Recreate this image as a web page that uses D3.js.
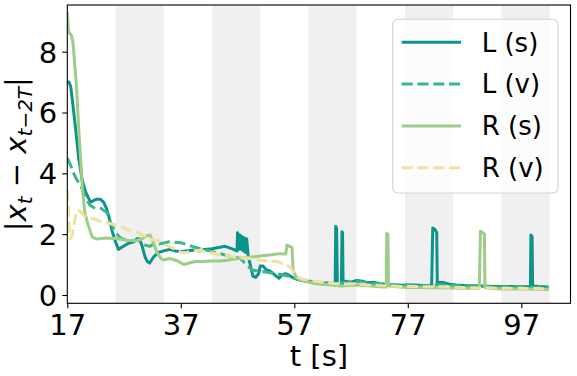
<!DOCTYPE html>
<html>
<head>
<meta charset="utf-8">
<script src="https://cdn.jsdelivr.net/npm/d3@7"></script>
<style>
  body { margin: 0; background: #fff; }
  svg { display: block; font-family: "DejaVu Sans", sans-serif; }
</style>
</head>
<body>
<div id="canvas"></div>
<script>
// [t, value] samples
var L_s = [[17.0,7.0],[17.3,7.0],[17.6,6.85],[17.9,6.4],[18.2,5.9],[18.5,5.4],[19.0,4.5],[19.6,3.8],[20.2,3.4],[20.7,3.2],[21.1,3.05],[21.6,3.1],[22.2,3.15],[22.8,3.15],[23.4,3.05],[23.9,2.85],[24.3,2.6],[24.9,2.1],[25.5,1.75],[26.0,1.5],[26.9,1.6],[27.8,1.7],[28.7,1.75],[29.3,1.85],[29.7,1.85],[30.2,1.6],[30.7,1.25],[31.1,1.1],[31.5,1.05],[32.2,1.25],[33.1,1.4],[34.0,1.45],[35.0,1.5],[36.0,1.45],[37.0,1.42],[38.0,1.45],[39.2,1.48],[40.4,1.45],[41.2,1.5],[42.5,1.52],[43.9,1.57],[44.8,1.6],[45.6,1.55],[46.3,1.5],[46.9,1.45],[47.0,2.05],[47.2,1.5],[47.4,1.98],[47.6,1.5],[47.8,1.92],[48.0,1.45],[48.2,1.88],[48.4,1.4],[48.6,1.85],[48.9,1.25],[49.3,0.95],[49.7,0.62],[50.2,0.58],[50.7,0.7],[51.0,0.95],[51.5,0.95],[52.1,0.82],[52.8,0.78],[53.3,0.7],[53.8,0.62],[54.3,0.55],[54.8,0.65],[55.3,0.7],[55.8,0.68],[56.3,0.62],[57.0,0.55],[58.0,0.49],[59.0,0.45],[60.3,0.43],[61.5,0.38],[62.5,0.36],[63.5,0.35],[64.2,0.33],[64.3,2.26],[64.45,2.2],[64.6,0.33],[65.0,0.3],[65.3,0.3],[65.4,2.08],[65.5,2.05],[65.6,0.3],[66.0,0.45],[67.0,0.42],[68.0,0.48],[69.0,0.45],[70.0,0.4],[71.0,0.42],[72.0,0.37],[73.0,0.35],[74.0,0.34],[75.0,0.33],[76.0,0.32],[77.0,0.33],[78.0,0.33],[79.0,0.32],[80.0,0.31],[81.2,0.3],[81.4,2.2],[81.8,2.15],[82.1,2.05],[82.2,0.35],[82.6,0.42],[83.5,0.4],[84.5,0.35],[85.5,0.33],[87.0,0.31],[89.0,0.3],[91.0,0.29],[93.0,0.28],[95.0,0.28],[97.0,0.27],[98.6,0.27],[98.7,1.97],[98.9,1.93],[99.0,0.3],[100.0,0.28],[101.0,0.27],[101.8,0.26]];
var L_v = [[17.0,4.5],[17.5,4.3],[18.0,4.05],[18.5,3.85],[19.0,3.7],[19.6,3.5],[20.2,3.2],[21.0,2.95],[21.9,2.85],[23.0,2.84],[24.0,2.7],[24.6,2.4],[25.5,2.05],[26.5,1.86],[27.5,1.8],[28.5,1.78],[29.5,1.8],[30.5,1.65],[31.5,1.6],[32.5,1.7],[33.3,1.68],[35.0,1.75],[37.0,1.72],[39.0,1.6],[40.5,1.52],[41.6,1.47],[43.0,1.4],[44.0,1.36],[45.0,1.3],[46.3,1.25],[47.5,1.2],[48.3,1.05],[49.0,0.92],[49.6,0.82],[51.0,0.78],[52.5,0.74],[54.0,0.7],[55.5,0.64],[56.3,0.6],[57.0,0.55],[58.0,0.5],[60.0,0.45],[62.0,0.42],[64.0,0.38],[66.0,0.4],[68.0,0.44],[70.0,0.4],[72.0,0.36],[74.0,0.33],[76.0,0.32],[78.0,0.32],[80.0,0.3],[82.0,0.34],[84.0,0.33],[86.0,0.3],[88.0,0.29],[90.0,0.28],[92.0,0.27],[94.0,0.26],[96.0,0.26],[98.0,0.25],[100.0,0.25],[101.8,0.24]];
var R_s = [[17.0,9.3],[17.2,8.7],[17.4,8.6],[17.7,8.55],[18.0,8.3],[18.3,7.6],[18.6,6.9],[19.0,5.5],[19.4,4.3],[19.7,3.4],[20.1,2.7],[20.6,2.35],[21.4,1.9],[22.2,1.84],[23.5,1.87],[25.5,1.86],[27.5,1.8],[29.0,1.78],[30.2,1.85],[31.0,1.95],[31.6,1.97],[32.2,1.7],[32.8,1.4],[33.5,1.2],[34.0,1.15],[35.0,1.2],[36.5,1.12],[37.5,1.0],[38.5,1.05],[39.5,1.1],[41.0,1.1],[42.5,1.12],[44.0,1.12],[45.5,1.15],[47.0,1.2],[49.0,1.24],[51.0,1.28],[53.0,1.32],[54.5,1.36],[55.5,1.35],[55.7,1.64],[56.2,1.6],[56.6,1.55],[56.8,0.8],[57.3,0.6],[57.8,0.52],[59.0,0.45],[60.5,0.38],[62.0,0.35],[64.0,0.32],[66.0,0.3],[68.0,0.33],[70.0,0.3],[72.0,0.27],[73.2,0.26],[73.3,2.02],[73.5,2.0],[73.6,0.3],[75.0,0.27],[77.0,0.25],[79.0,0.25],[81.0,0.24],[83.0,0.24],[85.0,0.23],[87.0,0.22],[89.6,0.22],[89.8,2.1],[90.2,2.05],[90.5,2.0],[90.6,0.25],[92.0,0.21],[94.0,0.2],[96.0,0.2],[98.0,0.2],[100.0,0.19],[101.8,0.18]];
var R_v = [[17.0,3.45],[17.2,2.8],[17.4,2.0],[17.6,1.85],[17.9,2.0],[18.3,2.45],[18.8,2.8],[19.3,2.75],[20.0,2.6],[21.0,2.55],[22.0,2.48],[23.0,2.4],[24.3,2.36],[25.5,2.3],[26.5,2.25],[27.5,2.15],[28.5,2.1],[29.5,2.05],[30.5,1.95],[31.5,1.85],[32.5,1.8],[33.3,1.78],[34.2,1.65],[35.1,1.58],[36.0,1.5],[37.0,1.4],[38.0,1.4],[39.0,1.45],[40.4,1.47],[41.5,1.42],[42.5,1.38],[43.5,1.34],[45.0,1.3],[46.5,1.25],[48.0,1.22],[50.0,1.18],[52.0,1.12],[54.0,1.1],[55.5,1.0],[56.3,0.92],[57.0,0.7],[57.5,0.6],[58.5,0.52],[60.0,0.47],[62.0,0.42],[64.0,0.38],[66.0,0.36],[68.0,0.37],[70.0,0.33],[72.0,0.31],[74.0,0.3],[76.0,0.28],[78.0,0.28],[80.0,0.27],[82.0,0.27],[84.0,0.26],[86.0,0.25],[88.0,0.24],[90.0,0.23],[92.0,0.23],[94.0,0.22],[96.0,0.22],[98.0,0.21],[100.0,0.21],[101.8,0.2]];

var seriesNames = ["L (s)", "L (v)", "R (s)", "R (v)"];
var bandStarts = [25.5, 42.5, 59.5, 76.5, 93.5];
var bandWidth = 8.5;
var xTicks = [17, 37, 57, 77, 97];
var yTicks = [0, 2, 4, 6, 8];

(function() {
  var width = 577, height = 376;
  var pLeft = 67.3, pRight = 570.5, pTop = 5, pBottom = 303.3;

  var x = d3.scaleLinear().domain([17, 105.67]).range([pLeft, pRight]);
  var y = d3.scaleLinear().domain([-0.273, 9.535]).range([pBottom, pTop]);

  var styles = [
    { color: "#0c948c", dash: null },
    { color: "#3bb58b", dash: "11,4.8" },
    { color: "#9dcd88", dash: null },
    { color: "#ece3a0", dash: "11,4.8" }
  ];
  var data = [L_s, L_v, R_s, R_v];

  var svg = d3.select("div#canvas").append("svg")
    .attr("width", width)
    .attr("height", height);

  svg.append("defs").append("clipPath").attr("id", "plot-clip")
    .append("rect")
    .attr("x", pLeft).attr("y", pTop)
    .attr("width", pRight - pLeft).attr("height", pBottom - pTop);

  // shaded intervals
  svg.append("g").selectAll("rect")
    .data(bandStarts)
    .enter().append("rect")
    .attr("x", function(d) { return x(d); })
    .attr("y", pTop)
    .attr("width", function(d) { return x(d + bandWidth) - x(d); })
    .attr("height", pBottom - pTop)
    .attr("fill", "#f0f0f0");

  var line = d3.line()
    .x(function(d) { return x(d[0]); })
    .y(function(d) { return y(d[1]); });

  svg.append("g").attr("clip-path", "url(#plot-clip)")
    .selectAll("path")
    .data(data)
    .enter().append("path")
    .attr("d", line)
    .attr("fill", "none")
    .attr("stroke", function(d, i) { return styles[i].color; })
    .attr("stroke-width", 3)
    .attr("stroke-linejoin", "round")
    .attr("stroke-dasharray", function(d, i) { return styles[i].dash; });

  // axes
  var xAxis = svg.append("g")
    .attr("transform", "translate(0," + pBottom + ")")
    .call(d3.axisBottom(x).tickValues(xTicks).tickSize(5).tickPadding(6));
  var yAxis = svg.append("g")
    .attr("transform", "translate(" + pLeft + ",0)")
    .call(d3.axisLeft(y).tickValues(yTicks).tickSize(5).tickPadding(5));

  [xAxis, yAxis].forEach(function(a) {
    a.select(".domain").remove();
    a.selectAll("line").attr("stroke", "#000").attr("stroke-width", 1.1);
    a.selectAll("text")
      .attr("fill", "#000")
      .style("font-family", "DejaVu Sans")
      .style("font-size", "29px");
  });
  yAxis.selectAll("text").attr("dy", "0.36em");

  svg.append("rect")
    .attr("x", pLeft).attr("y", pTop)
    .attr("width", pRight - pLeft).attr("height", pBottom - pTop)
    .attr("fill", "none")
    .attr("stroke", "#000")
    .attr("stroke-width", 1.1);

  svg.append("text")
    .attr("x", (pLeft + pRight) / 2)
    .attr("y", 366)
    .attr("text-anchor", "middle")
    .style("font-size", "29px")
    .text("t [s]");

  var ylab = svg.append("text")
    .attr("transform", "translate(26," + ((pTop + pBottom) / 2) + ") rotate(-90)")
    .attr("text-anchor", "middle")
    .style("font-size", "29px");
  ylab.append("tspan").text("|");
  ylab.append("tspan").style("font-style", "italic").text("x");
  ylab.append("tspan").style("font-style", "italic").style("font-size", "20px").attr("dy", 6).text("t");
  ylab.append("tspan").attr("dy", -6).text(" \u2212 ");
  ylab.append("tspan").style("font-style", "italic").text("x");
  ylab.append("tspan").style("font-style", "italic").style("font-size", "20px").attr("dy", 6).text("t\u22122T");
  ylab.append("tspan").attr("dy", -6).text("|");

  // legend
  var legend = svg.append("g");
  legend.append("rect")
    .attr("x", 392.7).attr("y", 19.3)
    .attr("width", 165.3).attr("height", 173.7)
    .attr("rx", 5)
    .attr("fill", "#fff").attr("fill-opacity", 0.8)
    .attr("stroke", "#d3d3d3").attr("stroke-width", 1.1);

  var rowY = d3.scalePoint().domain(seriesNames).range([42.3, 167.7]);
  var rows = legend.selectAll("g.row")
    .data(seriesNames)
    .enter().append("g")
    .attr("class", "row")
    .attr("transform", function(d) { return "translate(0," + rowY(d) + ")"; });
  rows.append("line")
    .attr("x1", 401.7).attr("x2", 461)
    .attr("stroke", function(d, i) { return styles[i].color; })
    .attr("stroke-width", 3)
    .attr("stroke-dasharray", function(d, i) { return styles[i].dash; });
  rows.append("text")
    .attr("x", 481.7)
    .attr("dy", "0.36em")
    .style("font-size", "26px")
    .text(function(d) { return d; });
})();
</script>
